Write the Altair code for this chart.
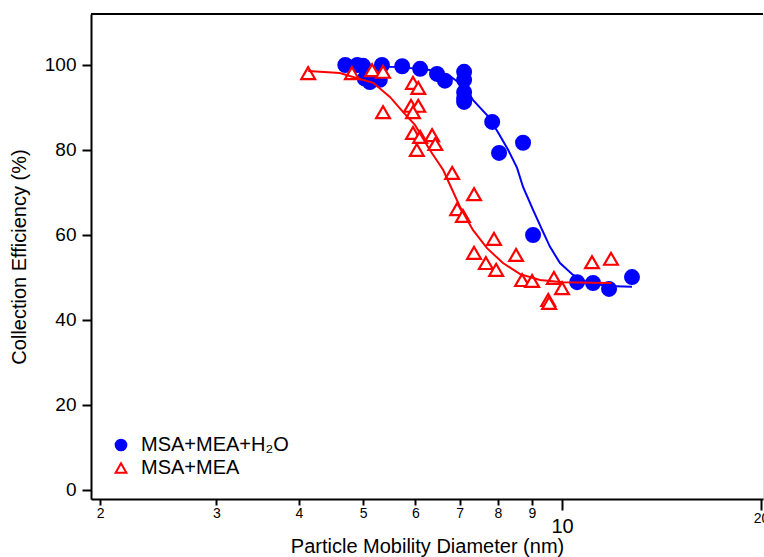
import altair as alt
import pandas as pd

S1 = "MSA+MEA+H₂O"
S2 = "MSA+MEA"

# MSA+MEA+H2O measured points (diameter nm, collection efficiency %)
h2o_d = [4.70, 4.90, 5.00, 5.03, 5.12, 5.30, 5.34, 5.73, 6.10, 6.47, 6.65,
         7.11, 7.11, 7.11, 7.11, 7.11, 7.84, 8.03, 8.73, 9.04, 10.54, 11.14, 11.78, 12.76]
h2o_ce = [100.0, 100.0, 99.8, 96.8, 96.0, 96.5, 100.0, 99.7, 99.1, 97.9, 96.3,
          98.4, 96.5, 93.6, 92.2, 91.3, 86.6, 79.3, 81.7, 60.0, 48.9, 48.7, 47.3, 50.1]

# MSA+MEA measured points
mea_d = [4.13, 4.81, 5.16, 5.36, 5.36, 5.95, 6.06, 5.91, 6.06, 5.95, 5.95, 6.10,
         6.36, 6.43, 6.03, 6.82, 7.36, 6.94, 7.08, 7.89, 7.36, 7.67, 7.95, 8.52,
         8.70, 9.01, 9.72, 10.00, 9.53, 9.56, 11.10, 11.86]
mea_ce = [98.1, 98.1, 98.8, 98.4, 88.9, 95.8, 94.6, 90.4, 90.4, 88.9, 84.0, 83.1,
          83.5, 81.4, 80.0, 74.6, 69.6, 66.1, 64.5, 59.1, 55.8, 53.4, 51.8, 55.3,
          49.4, 49.2, 49.9, 47.5, 44.7, 44.0, 53.6, 54.4]

# fitted curves
h2o_fit_d = [4.71, 5.69, 6.31, 6.77, 7.13, 7.33, 7.70, 8.00, 8.29, 8.55, 8.73,
             9.04, 9.33, 9.59, 9.93, 10.39, 10.91, 11.70, 12.76]
h2o_fit_ce = [99.8, 99.5, 98.8, 97.4, 94.8, 91.8, 88.2, 84.2, 80.0, 75.8, 71.3,
              65.9, 61.2, 57.2, 53.4, 50.6, 48.9, 48.0, 47.8]

mea_fit_d = [4.13, 4.61, 4.90, 5.18, 5.49, 5.75, 5.99, 6.31, 6.61, 7.01, 7.33,
             7.70, 8.14, 8.64, 9.26, 10.03, 11.86]
mea_fit_ce = [98.6, 98.1, 96.9, 95.8, 92.5, 88.9, 85.9, 80.0, 75.3, 66.6, 61.2,
              56.9, 53.4, 50.8, 49.4, 48.9, 48.7]

x_ticks = [2, 3, 4, 5, 6, 7, 8, 9, 10, 20]
y_ticks = [0, 20, 40, 60, 80, 100]

pts = pd.DataFrame({
    "d": h2o_d + mea_d,
    "ce": h2o_ce + mea_ce,
    "series": [S1] * len(h2o_d) + [S2] * len(mea_d),
})
fit_h2o = pd.DataFrame({"d": h2o_fit_d, "ce": h2o_fit_ce})
fit_mea = pd.DataFrame({"d": mea_fit_d, "ce": mea_fit_ce})

FONT = "Liberation Sans"

x_enc = alt.X(
    "d:Q",
    scale=alt.Scale(type="log", domain=[1.938, 20.14], nice=False),
    axis=alt.Axis(
        title="Particle Mobility Diameter (nm)",
        values=x_ticks,
        format="d",
        grid=False,
        domainColor="black",
        domainWidth=2,
        tickColor="black",
        tickWidth=2,
        tickSize={"condition": {"test": "datum.value == 10 || datum.value == 20", "value": 11}, "value": 6},
        labelFontSize={"condition": {"test": "datum.value == 10", "value": 20}, "value": 14},
        labelPadding={"condition": {"test": "datum.value == 10", "value": 6}, "value": 1},
        labelFlush=False,
        labelOverlap=False,
        labelColor="black",
        labelFont=FONT,
        titleFont=FONT,
        titleFontSize=20,
        titleFontWeight="normal",
        titleColor="black",
        titlePadding=0,
    ),
)
y_enc = alt.Y(
    "ce:Q",
    scale=alt.Scale(domain=[-2.12, 112.0], nice=False, zero=False),
    axis=alt.Axis(
        title="Collection Efficiency (%)",
        values=y_ticks,
        grid=False,
        domainColor="black",
        domainWidth=2,
        tickColor="black",
        tickWidth=2,
        tickSize=9,
        labelFontSize=19,
        labelPadding=6,
        labelColor="black",
        labelFont=FONT,
        titleFont=FONT,
        titleFontSize=20,
        titleFontWeight="normal",
        titleColor="black",
        titlePadding=15,
    ),
)

leg = alt.Legend(
    orient="none",
    legendX=20,
    legendY=421,
    title=None,
    labelFont=FONT,
    labelFontSize=20,
    labelColor="black",
    symbolSize=115,
    symbolStrokeWidth=2,
    labelOffset=10,
    rowPadding=3,
    padding=0,
)
dom = [S1, S2]

line_h2o = alt.Chart(fit_h2o).mark_line(color="#0000ff", strokeWidth=2).encode(x=x_enc, y=y_enc)

points = alt.Chart(pts).mark_point(size=190, strokeWidth=2.2, opacity=1, filled=False).encode(
    x=x_enc,
    y=y_enc,
    stroke=alt.Stroke("series:N", scale=alt.Scale(domain=dom, range=["#0000ff", "#ff0000"]), legend=leg),
    fill=alt.Fill("series:N", scale=alt.Scale(domain=dom, range=["#0000ff", "#ffffff"]), legend=leg),
    shape=alt.Shape("series:N", scale=alt.Scale(domain=dom, range=["circle", "triangle-up"]), legend=leg),
)

line_mea = alt.Chart(fit_mea).mark_line(color="#ff0000", strokeWidth=2).encode(x=x_enc, y=y_enc)

top_frame = alt.Chart(pts).mark_rule(color="black", strokeWidth=2).encode(y=alt.value(0))

chart = alt.layer(line_h2o, points, line_mea, top_frame).properties(
    width=672,
    height=485,
    autosize=alt.AutoSizeParams(type="none"),
    padding={"left": 91, "top": 14, "right": 1, "bottom": 58},
).configure_view(stroke=None).configure(background="white")

chart.save("out.html", embed_options={"renderer": "svg", "actions": False})
